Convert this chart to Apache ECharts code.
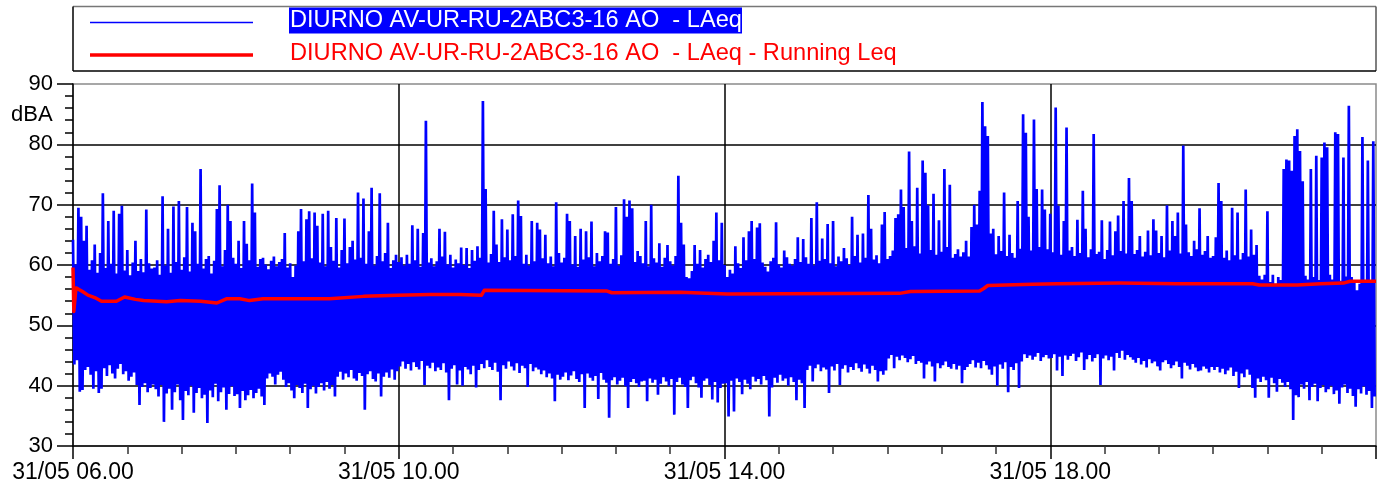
<!DOCTYPE html>
<html>
<head>
<meta charset="utf-8">
<script src="https://cdn.jsdelivr.net/npm/echarts@6/dist/echarts.min.js"></script>
<style>
html,body{margin:0;padding:0;background:#fff;}
#chart{width:1383px;height:488px;}
</style>
</head>
<body>
<div id="chart"></div>
<script>
// Series names (legend)
const seriesNames = ['DIURNO AV-UR-RU-2ABC3-16 AO  - LAeq', 'DIURNO AV-UR-RU-2ABC3-16 AO  - LAeq - Running Leq'];
// y-axis extra label
const yUnit = 'dBA';
const dayLabel = '31/05';
const startHour = 6;

// LAeq readings, alternating upper/lower samples (2-minute pairs), one array per hour
const up06 = [64.2,60.1,69.5,68.0,64.0,66.5,59.2,60.8,63.4,58.7,62.0,71.9,59.5,67.3,60.2,69.0,58.6,68.5,69.8,59.1,62.5,58.3,60.4,64.0,59.0,61.0,58.8,69.2,60.3,59.4];
const lo06 = [43.5,44.2,39.0,39.3,42.6,43.1,41.8,39.5,42.4,38.8,39.5,42.9,41.6,43.4,42.0,41.2,42.8,43.6,41.9,42.4,40.8,41.5,42.2,40.1,36.8,39.8,40.4,38.9,39.6,40.2];
const up07 = [59.6,60.8,58.4,71.4,59.9,66.0,58.7,69.7,60.5,70.6,59.2,61.3,69.6,58.9,67.0,65.6,60.2,75.9,59.4,61.0,61.5,58.6,60.7,69.3,73.2,59.8,62.5,70.0,67.3,61.2];
const lo07 = [39.4,38.2,40.1,34.0,38.7,39.5,36.0,38.9,40.2,37.6,34.3,39.1,38.4,40.0,35.5,38.8,39.6,37.9,38.5,33.8,39.2,38.1,40.3,37.4,38.9,39.7,36.0,38.6,39.9,38.3];
const up08 = [60.2,64.0,59.5,67.3,63.5,60.8,73.5,68.7,59.7,61.0,61.2,60.1,59.3,60.7,61.4,59.8,60.5,61.0,65.3,59.6,60.3,58.0,59.9,65.6,69.3,60.6,67.6,68.9,61.1,68.7];
const lo08 = [38.6,36.3,39.1,37.6,38.4,39.3,37.9,38.8,39.5,38.2,36.8,41.2,42.0,41.5,40.2,41.8,42.3,41.0,39.8,40.4,39.2,37.9,40.1,39.6,38.8,40.3,36.3,39.4,40.0,38.7];
const up09 = [66.5,60.4,68.5,59.8,69.0,63.0,60.7,67.8,59.6,62.5,67.7,60.3,63.0,64.0,60.9,72.0,61.2,71.0,60.2,65.6,72.8,59.9,61.5,71.9,60.6,62.0,67.0,59.5,60.8,61.7];
const lo09 = [39.8,40.4,39.2,40.6,39.5,40.1,38.2,41.5,42.3,41.0,42.0,41.4,42.6,41.2,40.8,42.1,41.6,36.0,41.9,42.4,41.1,40.7,42.0,38.2,41.5,42.2,41.3,42.7,41.0,42.4];
const up10 = [60.5,61.3,59.9,61.7,60.2,66.6,60.8,66.0,59.7,65.3,83.9,60.4,61.1,59.8,60.6,66.0,61.4,65.5,60.1,61.7,59.6,60.9,60.3,62.9,60.0,62.8,59.5,62.5,60.7,63.1];
const lo10 = [43.2,44.0,42.8,43.6,42.5,43.9,43.1,42.7,44.1,40.1,43.3,42.9,43.8,42.4,43.0,42.6,43.7,42.2,37.6,42.8,43.4,40.2,42.5,40.0,43.1,42.7,41.9,43.3,39.7,42.6];
const up11 = [61.2,87.2,72.6,60.4,61.8,69.0,63.4,60.5,67.6,61.3,65.9,60.8,68.4,61.5,70.7,68.1,60.2,61.7,59.9,67.3,60.6,67.0,65.9,61.1,65.0,60.3,61.4,59.8,70.4,62.0];
const lo11 = [43.6,42.9,44.2,43.1,42.6,43.8,42.3,37.6,43.4,42.8,44.0,43.2,42.5,43.7,42.1,43.3,42.9,39.8,43.6,42.4,43.0,42.7,41.9,42.5,41.4,42.0,41.2,37.4,41.8,41.0];
const up12 = [60.4,61.2,68.5,67.3,60.1,64.8,59.7,66.0,60.9,65.6,61.3,67.2,59.8,62.0,60.6,61.5,65.6,65.4,60.2,61.0,69.6,59.9,61.6,70.9,68.0,70.7,69.4,60.5,62.3,61.5];
const lo12 = [41.5,42.2,40.9,41.7,42.4,41.1,40.6,41.9,36.3,42.0,41.3,40.8,41.6,37.8,42.1,41.0,40.5,34.7,40.9,41.4,40.2,40.8,41.3,39.9,36.3,40.6,41.1,40.4,39.8,40.7];
const up13 = [60.3,67.3,59.8,70.0,61.1,60.4,63.6,59.7,61.2,63.3,60.6,59.9,61.5,74.8,67.0,63.4,58.0,57.8,59.0,63.3,60.2,62.5,59.6,61.0,61.7,60.5,64.0,68.7,60.8,67.0];
const lo13 = [40.8,37.4,41.2,40.5,41.0,38.5,40.3,41.4,40.7,39.9,41.1,35.2,40.6,41.3,40.2,39.8,36.3,40.9,41.5,40.4,39.7,38.0,40.8,41.2,40.1,37.7,40.6,37.2,39.6,40.3];
const up14 = [60.0,58.0,59.2,58.6,63.1,60.3,59.5,64.6,60.8,65.6,67.3,61.0,66.2,66.9,60.4,59.7,58.9,60.6,61.2,67.1,60.1,59.6,62.4,61.3,60.2,59.9,61.0,64.6,60.5,64.3];
const lo14 = [40.4,34.9,40.8,35.7,41.2,40.6,38.6,41.0,40.3,39.4,41.5,40.7,41.1,40.2,41.6,40.9,34.9,39.7,41.3,40.5,41.8,40.8,41.2,40.0,41.4,40.6,37.6,41.0,40.4,36.3];
const up15 = [61.3,60.2,67.8,59.9,70.4,60.7,64.4,61.0,66.8,60.3,67.3,59.8,61.4,60.6,62.8,61.1,60.0,68.0,61.5,65.0,60.4,65.2,61.2,71.6,66.0,60.9,61.6,60.3,66.7,68.8];
const lo15 = [42.6,43.3,40.7,42.9,43.5,42.4,43.0,42.7,38.8,43.2,42.5,43.6,40.1,42.8,43.4,42.2,43.1,42.6,43.7,42.9,42.3,43.5,42.8,42.0,43.3,42.6,40.7,42.4,41.8,42.5];
const up16 = [61.0,61.5,62.4,67.8,68.4,72.5,69.6,62.8,78.8,67.3,63.1,72.8,61.9,77.3,75.3,69.9,62.5,71.8,61.7,67.4,62.2,75.9,63.0,73.3,61.2,61.8,62.6,61.4,62.1,64.0];
const lo16 = [44.5,45.1,42.9,44.8,44.2,45.0,44.6,43.9,44.4,44.9,43.6,44.1,43.8,41.2,43.5,44.0,43.2,40.7,43.7,42.9,43.4,44.0,43.1,42.8,43.6,42.7,43.3,40.4,42.6,43.1];
const up17 = [61.4,66.3,70.0,66.7,72.3,87.0,83.0,81.4,65.2,66.0,61.8,64.8,62.3,72.0,61.5,65.0,62.0,61.2,70.6,62.7,85.0,81.9,68.0,62.4,84.1,72.6,63.0,72.5,69.2,62.6];
const lo17 = [43.6,44.2,43.0,43.8,42.9,44.1,43.4,42.7,41.8,43.2,40.0,43.5,42.8,43.9,38.9,43.1,42.6,43.7,39.6,44.0,45.2,44.6,45.0,44.3,44.8,45.4,44.1,44.7,45.1,44.5];
const up18 = [68.5,62.1,86.1,69.8,61.7,67.3,82.8,62.4,63.0,61.5,67.5,62.0,72.3,66.0,61.3,62.6,81.7,61.8,62.2,67.4,61.0,62.5,67.2,61.6,65.6,68.2,62.3,70.6,61.9,74.4];
const lo18 = [44.6,45.2,42.5,44.8,41.6,45.0,44.3,44.9,45.3,44.1,44.7,45.5,42.6,44.4,45.1,44.0,44.6,45.2,40.1,44.5,45.0,44.2,44.8,42.5,45.4,44.6,45.8,44.3,45.1,44.7];
const up19 = [70.6,61.8,62.5,64.8,61.4,62.2,65.7,61.6,67.6,65.7,62.0,64.8,61.3,69.9,62.4,67.3,64.8,68.7,61.9,79.8,66.7,62.1,61.5,64.0,62.6,69.4,61.7,62.3,64.8,61.2];
const lo19 = [44.3,43.8,44.6,43.5,44.1,43.0,44.4,43.7,44.0,43.2,42.5,43.9,44.2,43.6,42.9,43.4,44.0,43.1,41.2,43.8,43.3,42.7,43.6,43.0,42.4,42.5,43.2,42.8,42.2,43.1];
const up20 = [61.5,64.6,73.6,70.6,61.2,62.4,60.8,69.5,61.6,68.7,60.9,62.0,72.5,61.4,65.9,61.7,63.3,58.2,57.6,58.4,68.9,57.2,58.4,56.9,58.0,57.5,75.9,77.5,77.3,75.6];
const lo20 = [42.6,43.1,42.2,42.8,41.9,42.5,43.0,41.6,42.3,39.6,42.0,41.4,42.7,41.8,39.6,38.0,41.2,40.6,41.5,40.9,38.0,41.3,40.4,39.0,41.1,40.5,39.8,40.6,39.4,34.3];
const up21 = [81.4,82.5,78.9,73.9,58.2,57.6,75.9,58.0,78.1,57.5,77.8,80.3,79.5,58.4,57.6,82.0,81.7,57.4,77.8,58.1,86.4,58.0,57.1,55.8,56.9,81.2,57.5,77.3,57.2,80.5];
const lo21 = [38.4,38.1,40.2,39.5,40.6,37.6,39.8,40.3,37.4,39.6,40.1,38.9,39.4,40.0,38.6,39.2,37.0,39.7,40.2,38.8,39.5,38.3,36.5,39.4,38.7,39.9,38.5,39.1,36.3,38.2];

// Running Leq: minutes since 06:00 and values
const leqMin = [0,0.6,2.2,4,7,11,16,21,32,38,46,52,69,79,94,106,113,123,130,140,189,214,239,263,285,301,303,393,397,447,482,609,617,668,671,674,707,725,771,813,869,874,902,919,936,941,960];
const leqVal = [59.6,52.3,56.2,56.0,55.6,55.0,54.6,54.0,54.0,54.7,54.3,54.1,53.9,54.1,54.0,53.7,54.4,54.4,54.1,54.4,54.4,54.8,55.0,55.1,55.1,55.0,55.8,55.7,55.4,55.5,55.2,55.3,55.6,55.7,56.1,56.6,56.8,56.9,57.0,56.9,56.9,56.7,56.7,56.9,57.0,57.3,57.3];

const upper = [].concat(up06,up07,up08,up09,up10,up11,up12,up13,up14,up15,up16,up17,up18,up19,up20,up21);
const lower = [].concat(lo06,lo07,lo08,lo09,lo10,lo11,lo12,lo13,lo14,lo15,lo16,lo17,lo18,lo19,lo20,lo21);
const laeqData = [];
for (let k = 0; k < upper.length; k++) {
  laeqData.push([2 * k, upper[k]]);
  laeqData.push([2 * k + 1, lower[k]]);
}
const leqData = leqMin.map((m, i) => [m, leqVal[i]]);

const FONT = "'Liberation Sans', Arial, sans-serif";
const chart = echarts.init(document.getElementById('chart'), null, {renderer: 'canvas'});

const pad = n => (n < 10 ? '0' : '') + n;

chart.setOption({
  animation: false,
  backgroundColor: '#ffffff',
  grid: {left: 73, top: 84, width: 1303, height: 362, show: true, borderColor: '#8a8a8a', borderWidth: 1.5, containLabel: false},
  xAxis: {
    type: 'value', min: 0, max: 960, interval: 240,
    axisLine: {show: true, onZero: false, lineStyle: {color: '#000', width: 1.5}},
    axisTick: {show: true, length: 13, lineStyle: {color: '#000', width: 1.5}},
    minorTick: {show: true, splitNumber: 6, length: 8, lineStyle: {color: '#333', width: 1.5}},
    splitLine: {show: true, showMinLine: false, showMaxLine: false, lineStyle: {color: '#000', width: 1.5}},
    axisLabel: {
      show: true, margin: 15, color: '#000', fontSize: 23, fontFamily: FONT, showMaxLabel: false,
      formatter: v => dayLabel + ' ' + pad(startHour + Math.round(v / 60)) + '.00'
    }
  },
  yAxis: {
    type: 'value', min: 30, max: 90, interval: 10,
    axisLine: {show: true, lineStyle: {color: '#000', width: 1.5}},
    axisTick: {show: true, length: 16, lineStyle: {color: '#000', width: 1.5}},
    minorTick: {show: true, splitNumber: 5, length: 8, lineStyle: {color: '#000', width: 1.5}},
    splitLine: {show: true, showMinLine: false, showMaxLine: false, lineStyle: {color: '#000', width: 1.5}},
    axisLabel: {show: true, margin: 20, color: '#000', fontSize: 22, fontFamily: FONT}
  },
  series: [
    {
      name: seriesNames[0], type: 'line', data: laeqData, showSymbol: false, symbol: 'none',
      sampling: null, clip: true, z: 2,
      lineStyle: {color: '#0000ff', width: 2.7, join: 'bevel'}
    },
    {
      name: seriesNames[1], type: 'line', data: leqData, showSymbol: false, symbol: 'none',
      clip: true, z: 3,
      lineStyle: {color: '#ff0000', width: 3.5, join: 'round'}
    }
  ],
  graphic: [
    {type: 'text', left: 11, top: 104, z: 10, style: {text: yUnit, fill: '#000', font: '22px ' + FONT}},
    // legend box
    {type: 'line', z: 10, shape: {x1: 73, y1: 6.5, x2: 1376, y2: 6.5}, style: {stroke: '#777', lineWidth: 1.5}},
    {type: 'line', z: 10, shape: {x1: 1376, y1: 6.5, x2: 1376, y2: 71}, style: {stroke: '#555', lineWidth: 1.5}},
    {type: 'line', z: 10, shape: {x1: 73, y1: 6.5, x2: 73, y2: 71}, style: {stroke: '#000', lineWidth: 1.5}},
    {type: 'line', z: 10, shape: {x1: 73, y1: 71, x2: 1376, y2: 71}, style: {stroke: '#000', lineWidth: 1.5}},
    {type: 'line', z: 10, shape: {x1: 90, y1: 22.5, x2: 253, y2: 22.5}, style: {stroke: '#0000ff', lineWidth: 1.5}},
    {type: 'line', z: 10, shape: {x1: 90, y1: 55, x2: 253, y2: 55}, style: {stroke: '#ff0000', lineWidth: 3.5}},
    {type: 'rect', z: 10, shape: {x: 289, y: 7.5, width: 453, height: 26}, style: {fill: '#0000ff'}},
    {type: 'text', z: 11, x: 290, y: 20.5, style: {text: seriesNames[0], fill: '#fff', font: '23.6px ' + FONT, textVerticalAlign: 'middle', verticalAlign: 'middle'}},
    {type: 'text', z: 11, x: 290, y: 53.5, style: {text: seriesNames[1], fill: '#ff0000', font: '23.6px ' + FONT, textVerticalAlign: 'middle', verticalAlign: 'middle'}}
  ]
});
</script>
</body>
</html>
